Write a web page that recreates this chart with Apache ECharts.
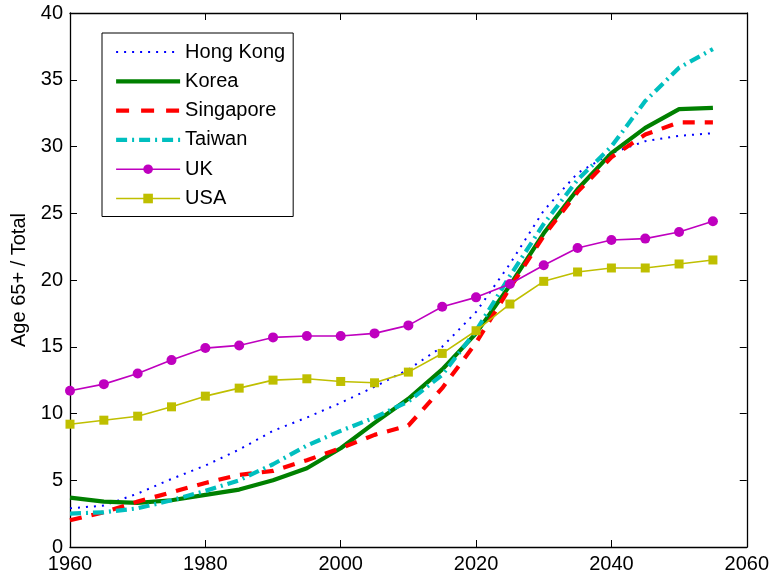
<!DOCTYPE html>
<html>
<head>
<meta charset="utf-8">
<script src="https://cdn.jsdelivr.net/npm/echarts@6/dist/echarts.min.js"></script>
<style>
html,body{margin:0;padding:0;background:#fff;}
#chart{width:772px;height:578px;}
</style>
</head>
<body>
<div id="chart"></div>
<script>
const years = [1960,1965,1970,1975,1980,1985,1990,1995,2000,2005,2010,2015,2020,2025,2030,2035,2040,2045,2050,2055];
const hongKong  = [2.9,3.1,4.0,5.1,6.1,7.3,8.7,9.7,10.8,12.0,13.3,15.0,17.6,21.2,25.2,28.0,29.5,30.4,30.8,31.0];
const korea     = [3.7,3.4,3.3,3.5,3.9,4.3,5.0,5.9,7.4,9.3,11.1,13.3,16.0,19.6,23.5,26.8,29.5,31.4,32.8,32.9];
const singapore = [2.0,2.6,3.4,4.1,4.8,5.4,5.7,6.5,7.4,8.4,9.1,11.9,15.3,19.4,23.3,26.6,29.2,30.9,31.8,31.8];
const taiwan    = [2.5,2.6,2.9,3.5,4.2,5.0,6.2,7.6,8.7,9.7,10.9,12.9,16.2,20.3,24.2,27.5,30.0,33.4,35.9,37.3];
const uk        = [11.7,12.2,13.0,14.0,14.9,15.1,15.7,15.8,15.8,16.0,16.6,18.0,18.7,19.7,21.1,22.4,23.0,23.1,23.6,24.4];
const usa       = [9.2,9.5,9.8,10.5,11.3,11.9,12.5,12.6,12.4,12.3,13.1,14.5,16.2,18.2,19.9,20.6,20.9,20.9,21.2,21.5];
const seriesNames = ['Hong Kong','Korea','Singapore','Taiwan','UK','USA'];
const xTicks = [1960,1980,2000,2020,2040,2060];
const yTicks = [0,5,10,15,20,25,30,35,40];

const pairs = arr => years.map((y,i)=>[y,arr[i]]);
const FONT = 'Liberation Sans, Arial, sans-serif';
const FS = 20;

const styles = {
  'Hong Kong': {color:'#0000ff', width:2, type:[2,6], symbol:'none'},
  'Korea':     {color:'#008000', width:4.2, type:'solid', symbol:'none'},
  'Singapore': {color:'#ff0000', width:4.2, type:[12,10], symbol:'none'},
  'Taiwan':    {color:'#00bfbf', width:4.2, type:[11,5,2,5], symbol:'none'},
  'UK':        {color:'#bf00bf', width:1.6, type:'solid', symbol:'circle', size:10},
  'USA':       {color:'#bfbf00', width:1.6, type:'solid', symbol:'rect', size:9}
};
const dataMap = {'Hong Kong':hongKong,'Korea':korea,'Singapore':singapore,'Taiwan':taiwan,'UK':uk,'USA':usa};

const series = seriesNames.map(n=>{
  const s = styles[n];
  return {
    name:n, type:'line', data:pairs(dataMap[n]),
    symbol: s.symbol === 'none' ? 'none' : s.symbol,
    symbolSize: s.size || 0,
    showSymbol: s.symbol !== 'none',
    lineStyle:{color:s.color, width:s.width, type:s.type, cap:'butt'},
    itemStyle:{color:s.color},
    emphasis:{disabled:true},
    animation:false
  };
});

const legendData = seriesNames.map(n=>{
  const s = styles[n];
  const item = {name:n, lineStyle:{color:s.color, width:s.width, type: n==='Singapore' ? [13,12] : s.type}};
  if (s.symbol === 'none') item.itemStyle = {opacity:0};
  return item;
});

const axisCommon = {
  axisLine:{show:true, onZero:false, lineStyle:{color:'#000', width:1.3}},
  axisTick:{show:true, inside:true, length:7, lineStyle:{color:'#000', width:1}},
  splitLine:{show:false}
};

const chart = echarts.init(document.getElementById('chart'), null, {renderer:'canvas'});
chart.setOption({
  animation:false,
  backgroundColor:'#fff',
  grid:{left:70, right:25, top:13, bottom:31, containLabel:false},
  legend:{
    orient:'vertical', left:102, top:33,
    padding:[9,8,8,12],
    itemWidth:64, itemHeight:12, itemGap:9.3,
    backgroundColor:'#fff', borderColor:'#000', borderWidth:1,
    textStyle:{fontFamily:FONT, fontSize:FS, color:'#000', lineHeight:20},
    data:legendData
  },
  xAxis:[
    Object.assign({type:'value', min:1960, max:2060, interval:20, position:'bottom',
      axisLabel:{fontFamily:FONT, fontSize:FS, color:'#000', margin:7,
        formatter: v => xTicks.includes(v) ? String(v) : ''}}, axisCommon),
    Object.assign({type:'value', min:1960, max:2060, interval:20, position:'top',
      axisLabel:{show:false}}, axisCommon)
  ],
  yAxis:[
    Object.assign({type:'value', min:0, max:40, interval:5, position:'left',
      name:'Age 65+ / Total', nameLocation:'middle', nameGap:41,
      nameTextStyle:{fontFamily:FONT, fontSize:FS, color:'#000'},
      axisLabel:{fontFamily:FONT, fontSize:FS, color:'#000', margin:7,
        formatter: v => yTicks.includes(v) ? String(v) : ''}}, axisCommon),
    Object.assign({type:'value', min:0, max:40, interval:5, position:'right',
      axisLabel:{show:false}}, axisCommon)
  ],
  series: series
});
</script>
</body>
</html>
